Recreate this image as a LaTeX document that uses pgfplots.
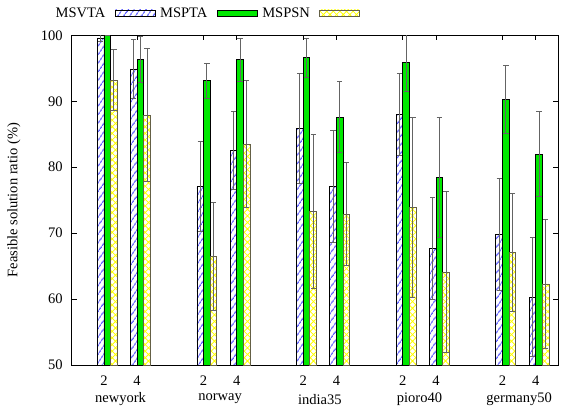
\documentclass[border=0pt]{standalone}
\usepackage{fontspec}
\setmainfont{Liberation Serif}
\usepackage{pgfplots}
\pgfplotsset{compat=1.18}
\usepackage{pgfplotstable}
\usetikzlibrary{patterns.meta}

\definecolor{bargreen}{RGB}{0,232,0}
\definecolor{errgray}{RGB}{100,100,100}

\pgfplotstableread{
x y e
0 99.6 0.5
1 94.9 4.5
3 77.1 6.8
4 82.6 5.9
6 85.9 8.3
7 77.1 8.5
9 88.0 6.2
10 67.7 7.7
12 69.8 8.5
13 60.3 9.0
}\msvta

\pgfplotstableread{
x y e
0 100 0
1 96.4 3.5
3 93.1 2.6
4 96.3 3.3
6 96.6 3.0
7 87.6 5.4
9 95.9 4.4
10 78.5 9.1
12 90.3 5.1
13 82.0 6.4
}\mspta

\pgfplotstableread{
x y e
0 93.2 4.6
1 87.9 10.1
3 66.5 8.2
4 83.5 9.6
6 73.3 11.7
7 72.9 7.8
9 73.9 13.6
10 64.1 12.2
12 67.1 9.0
13 62.3 9.8
}\mspsn

\pgfplotsset{
  mybar/.style={ybar, bar width=0.2, bar shift=0, line width=0.6pt,
    legend image code/.code={\draw[##1] (0pt,-2.5pt) rectangle (30pt,2.5pt);},
    /pgfplots/error bars/y dir=both,
    /pgfplots/error bars/y explicit,
    /pgfplots/error bars/error bar style={draw=errgray, line width=0.6pt},
    /pgfplots/error bars/error mark options={draw=errgray, line width=0.6pt, mark size=2pt, rotate=90}},
}

\begin{document}
\fontsize{10.9}{13}\selectfont
\begin{tikzpicture}
\begin{axis}[
  scale only axis,
  width=364.7pt, height=247.3pt,
  xmin=-0.97, xmax=13.67,
  ymin=50, ymax=100,
  ytick={50,60,70,80,90,100},
  xtick={0,1,3,4,6,7,9,10,12,13},
  xticklabels={2,4,2,4,2,4,2,4,2,4},
  tick align=inside,
  tick pos=both,
  xticklabel pos=lower, yticklabel pos=left,
  major tick length=3.75pt,
  tick style={black, line width=0.6pt},
  axis line style={line width=0.7pt},
  /pgf/number format/assume math mode=true,
  xticklabel style={anchor=center, yshift=-12pt, font=\fontsize{10.9}{13}\selectfont},
  yticklabel style={xshift=-3pt, font=\fontsize{10.9}{13}\selectfont},
  ylabel={Feasible solution ratio (\%)},
  ylabel style={at={(rel axis cs:-0.1187,0.5)}, anchor=center, font=\fontsize{10.9}{13}\selectfont},
  clip mode=individual,
  legend plot pos=right,
  legend columns=-1,
  legend style={at={(rel axis cs:-0.033,1.0667)}, anchor=west, draw=none, fill=none,
    inner sep=0pt, outer sep=0pt,
    font=\fontsize{10.9}{13}\selectfont,
    nodes={inner sep=0pt},
    /tikz/every odd column/.append style={column sep=7pt},
    /tikz/every even column/.append style={column sep=3.5pt}},
]
\path (rel axis cs:-0.1474,-0.1274) rectangle (rel axis cs:1.0062,1.1071);

\addplot[mybar, draw=black,
  pattern={Lines[angle=55, distance=4pt, line width=0.6pt]}, pattern color=blue]
  table[x expr=\thisrow{x}-0.1, y=y, y error=e] {\msvta};
\addlegendentry{MSVTA}

\addplot[mybar, draw=black, fill=bargreen]
  table[x expr=\thisrow{x}+0.1, y=y, y error=e] {\mspta};
\addlegendentry{MSPTA}

\addplot[mybar, draw=black!70!yellow,
  pattern={Hatch[angle=45, distance=3.5pt, line width=0.6pt]}, pattern color=yellow]
  table[x expr=\thisrow{x}+0.3, y=y, y error=e] {\mspsn};
\addlegendentry{MSPSN}

\node[font=\fontsize{10.9}{13}\selectfont] at (axis cs:0.5,50) [yshift=-25.5pt] {newyork};
\node[font=\fontsize{10.9}{13}\selectfont] at (axis cs:3.5,50) [yshift=-25.5pt] {norway};
\node[font=\fontsize{10.9}{13}\selectfont] at (axis cs:6.5,50) [yshift=-25.5pt] {india35};
\node[font=\fontsize{10.9}{13}\selectfont] at (axis cs:9.5,50) [yshift=-25.5pt] {pioro40};
\node[font=\fontsize{10.9}{13}\selectfont] at (axis cs:12.5,50) [yshift=-25.5pt] {germany50};
\end{axis}
\end{tikzpicture}
\end{document}
